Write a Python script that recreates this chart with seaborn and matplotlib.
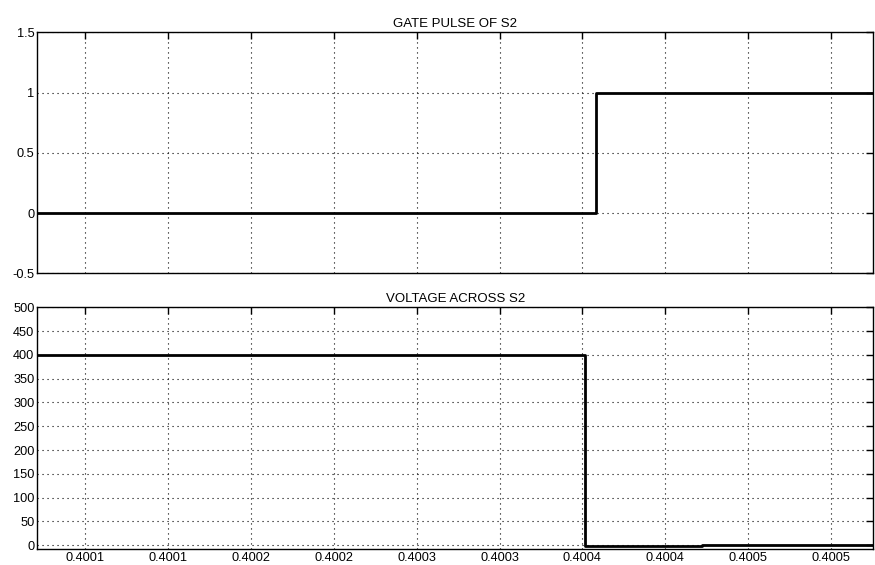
import matplotlib
matplotlib.use("Agg")
import matplotlib.pyplot as plt
import seaborn as sns
import pandas as pd

# Switching instants (s) and signal levels
t_start = 0.400071
t_end = 0.4005754
gate_time = [t_start, 0.400408, t_end]
gate_level = [0, 1, 1]
volt_time = [t_start, 0.4004014, 0.400472, t_end]
volt_level = [400, -2, 1, 1]

# Axis ticks
x_ticks = [0.40010, 0.40015, 0.40020, 0.40025, 0.40030,
           0.40035, 0.40040, 0.40045, 0.40050, 0.40055]
x_tick_labels = ["0.4001", "0.4001", "0.4002", "0.4002", "0.4003",
                 "0.4003", "0.4004", "0.4004", "0.4005", "0.4005"]
gate_ticks = [-0.5, 0, 0.5, 1, 1.5]
gate_tick_labels = ["-0.5", "0", "0.5", "1", "1.5"]
volt_ticks = [0, 50, 100, 150, 200, 250, 300, 350, 400, 450, 500]
volt_tick_labels = [str(v) for v in volt_ticks]

sns.set_style("white")
plt.rcParams["font.family"] = ["Liberation Sans", "DejaVu Sans"]

fig = plt.figure(figsize=(8.75, 5.65), dpi=100)
ax1 = fig.add_axes([0.0426, 0.5163, 0.9551, 0.4265])
ax2 = fig.add_axes([0.0426, 0.0283, 0.9551, 0.4278])

gate_df = pd.DataFrame({"t": gate_time, "v": gate_level})
volt_df = pd.DataFrame({"t": volt_time, "v": volt_level})

sns.lineplot(data=gate_df, x="t", y="v", ax=ax1, color="black",
             linewidth=2.0, drawstyle="steps-post", sort=False)
sns.lineplot(data=volt_df, x="t", y="v", ax=ax2, color="black",
             linewidth=2.0, drawstyle="steps-post", sort=False)

panels = [
    (ax1, "GATE PULSE OF S2", (-0.5, 1.5), gate_ticks, gate_tick_labels, False),
    (ax2, "VOLTAGE ACROSS S2", (-8, 500), volt_ticks, volt_tick_labels, True),
]
for ax, title, ylim, yt, ytl, show_x in panels:
    ax.set_xlim(t_start, t_end)
    ax.set_ylim(*ylim)
    ax.set_xticks(x_ticks)
    ax.set_xticklabels(x_tick_labels if show_x else [])
    ax.set_yticks(yt)
    ax.set_yticklabels(ytl)
    ax.set_xlabel("")
    ax.set_ylabel("")
    ax.set_title(title, fontsize=9.5, pad=4, color="black")
    ax.grid(True, color="black", linestyle=(0, (1, 3.5)), linewidth=0.8)
    ax.tick_params(direction="in", length=5, width=1, labelsize=9.2,
                   top=True, right=True, colors="black", pad=2)
    for side in ax.spines.values():
        side.set_visible(True)
        side.set_color("black")
        side.set_linewidth(1.0)
    ax.set_axisbelow(True)

fig.savefig("out.png", dpi=100, facecolor="white")
